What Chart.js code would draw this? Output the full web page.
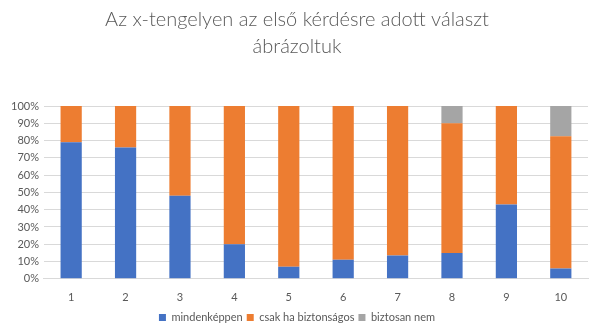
<!DOCTYPE html>
<html>
<head>
<meta charset="utf-8">
<script src="https://cdn.jsdelivr.net/npm/chart.js@4"></script>
<style>
  html, body { margin: 0; padding: 0; background: #fff; }
  #wrap { width: 600px; height: 333px; }
</style>
</head>
<body>
<div id="wrap"><canvas id="chart"></canvas></div>
<script>
// --- Data ---
const categories = ["1", "2", "3", "4", "5", "6", "7", "8", "9", "10"];
const mindenkeppen = [79, 76, 48, 20, 7, 11, 13.5, 15, 43, 6];
const csakHaBiztonsagos = [21, 24, 52, 80, 93, 89, 86.5, 75, 57, 76.5];
const biztosanNem = [0, 0, 0, 0, 0, 0, 0, 10, 0, 17.5];
const yTicks = [0, 10, 20, 30, 40, 50, 60, 70, 80, 90, 100];

const FONT = "Lato, 'Open Sans', sans-serif";
const TEXT = "#595959";

function series(label, data, color) {
  return {
    label,
    data,
    backgroundColor: color,
    borderWidth: 0,
    categoryPercentage: 1,
    barPercentage: 0.39,
  };
}

new Chart(document.getElementById("chart"), {
  type: "bar",
  data: {
    labels: categories,
    datasets: [
      series("mindenképpen", mindenkeppen, "#4472c4"),
      series("csak ha biztonságos", csakHaBiztonsagos, "#ed7d31"),
      series("biztosan nem", biztosanNem, "#a5a5a5"),
    ],
  },
  options: {
    responsive: true,
    maintainAspectRatio: false,
    animation: false,
    layout: { padding: { left: 6, right: 12, top: 2, bottom: 0 } },
    plugins: {
      title: {
        display: true,
        text: ["Az x-tengelyen az első kérdésre adott választ", "ábrázoltuk"],
        color: TEXT,
        font: { family: FONT, size: 20, weight: "300", lineHeight: 1.35 },
        padding: { top: 4, bottom: 46 },
      },
      legend: {
        position: "bottom",
        labels: {
          color: TEXT,
          font: { family: FONT, size: 11 },
          boxWidth: 7,
          boxHeight: 7,
          padding: 4,
        },
      },
      tooltip: { enabled: false },
    },
    scales: {
      x: {
        stacked: true,
        grid: { display: false },
        border: { color: "#d9d9d9" },
        ticks: { color: TEXT, font: { family: FONT, size: 11 }, padding: 4 },
      },
      y: {
        stacked: true,
        min: 0,
        max: 100,
        afterBuildTicks: axis => { axis.ticks = yTicks.map(v => ({ value: v })); },
        grid: { color: "#d9d9d9", drawTicks: false },
        border: { display: false },
        ticks: {
          color: TEXT,
          font: { family: FONT, size: 11 },
          padding: 5,
          callback: v => v + "%",
        },
      },
    },
  },
});
</script>
</body>
</html>
